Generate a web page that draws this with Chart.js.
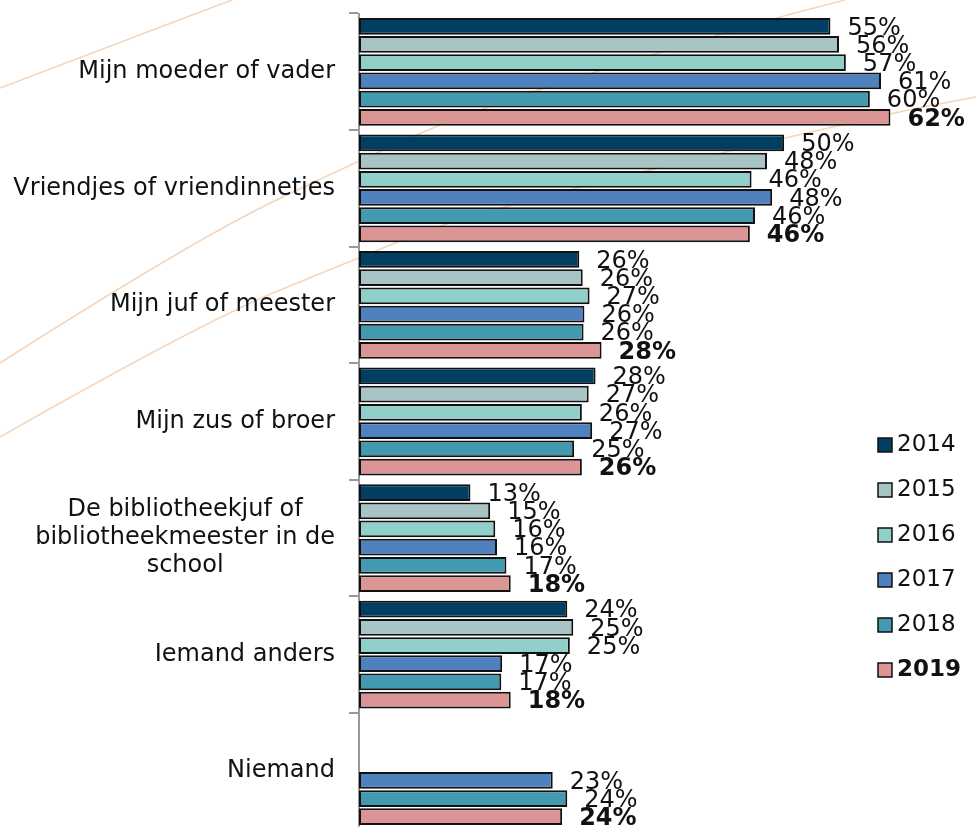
<!DOCTYPE html>
<html>
<head>
<meta charset="utf-8">
<script src="https://cdn.jsdelivr.net/npm/chart.js@4.4.1/dist/chart.umd.min.js"></script>
<style>
  html, body { margin: 0; padding: 0; background: #fff; overflow: hidden; }
  #wrap { position: relative; width: 976px; height: 832px; }
</style>
</head>
<body>
<div id="wrap"><canvas id="chBars"></canvas></div>
<script>
var categories = [
  ['Mijn moeder of vader'],
  ['Vriendjes of vriendinnetjes'],
  ['Mijn juf of meester'],
  ['Mijn zus of broer'],
  ['De bibliotheekjuf of', 'bibliotheekmeester in de', 'school'],
  ['Iemand anders'],
  ['Niemand']
];
var years = ['2014', '2015', '2016', '2017', '2018', '2019'];
var colors = ['#003F62', '#A9C4C4', '#90CFCA', '#4E81BD', '#4299B0', '#DA9594'];

// percentages per year, same order as categories
var v2014 = [55.0, 49.6, 25.7, 27.6, 13.0, 24.3, null];
var v2015 = [56.0, 47.6, 26.1, 26.8, 15.3, 25.0, null];
var v2016 = [56.8, 45.8, 26.9, 26.0, 15.9, 24.6, null];
var v2017 = [60.9, 48.2, 26.3, 27.2, 16.1, 16.7, 22.6];
var v2018 = [59.6, 46.2, 26.2, 25.1, 17.2, 16.6, 24.3];
var v2019 = [62.0, 45.6, 28.3, 26.0, 17.7, 17.7, 23.7];
var series = [v2014, v2015, v2016, v2017, v2018, v2019];

var FONT = '"DejaVu Sans", Verdana, sans-serif';

// background swooshes (decoration only)
var swooshes = [
  [[0, 88], [110, 46], [232, 0]],
  [[0, 363], [193, 240], [360, 160], [480, 107], [760, 22], [845, 0]],
  [[0, 437], [200, 323], [358, 258], [473, 212], [890, 113], [976, 97]]
];

var bgCurves = {
  id: 'bgCurves',
  beforeDraw: function (chart) {
    var ctx = chart.ctx;
    ctx.save();
    ctx.strokeStyle = 'rgba(240,195,160,0.7)';
    ctx.lineWidth = 1.5;
    swooshes.forEach(function (pts) {
      ctx.beginPath();
      ctx.moveTo(pts[0][0], pts[0][1]);
      for (var i = 1; i < pts.length - 1; i++) {
        var mx = (pts[i][0] + pts[i + 1][0]) / 2, my = (pts[i][1] + pts[i + 1][1]) / 2;
        ctx.quadraticCurveTo(pts[i][0], pts[i][1], mx, my);
      }
      var last = pts[pts.length - 1];
      ctx.lineTo(last[0], last[1]);
      ctx.stroke();
    });
    ctx.restore();
  }
};

/* category labels, multi-line ones centred on each other */
var catLabels = {
  id: 'catLabels',
  afterDraw: function (chart) {
    var ctx = chart.ctx, yScale = chart.scales.y;
    var right = 335, lineH = 28;
    ctx.save();
    ctx.font = '24px ' + FONT;
    ctx.fillStyle = '#111';
    ctx.textBaseline = 'middle';
    ctx.textAlign = 'center';
    categories.forEach(function (lines, i) {
      var w = 0;
      lines.forEach(function (l) { w = Math.max(w, ctx.measureText(l).width); });
      var cx = right - w / 2;
      var cy = yScale.getPixelForValue(i) - (lines.length - 1) * lineH / 2;
      lines.forEach(function (l, k) { ctx.fillText(l, cx, cy + k * lineH); });
    });
    ctx.restore();
  }
};

/* value labels at the end of each bar */
var valueLabels = {
  id: 'valueLabels',
  afterDatasetsDraw: function (chart) {
    var ctx = chart.ctx;
    ctx.save();
    ctx.fillStyle = '#111';
    ctx.textBaseline = 'middle';
    ctx.textAlign = 'left';
    chart.data.datasets.forEach(function (ds, di) {
      var meta = chart.getDatasetMeta(di);
      ctx.font = (di === 5 ? 'bold ' : '') + '24px ' + FONT;
      meta.data.forEach(function (bar, i) {
        var v = ds.data[i];
        if (v === null) return;
        ctx.fillText(Math.round(v) + '%', bar.x + 17, bar.y + 2);
      });
    });
    ctx.restore();
  }
};

/* legend on the right */
var sideLegend = {
  id: 'sideLegend',
  afterDraw: function (chart) {
    var ctx = chart.ctx;
    ctx.save();
    ctx.textBaseline = 'middle';
    ctx.textAlign = 'left';
    years.forEach(function (y, i) {
      var cy = 445 + i * 45;
      ctx.fillStyle = colors[i];
      ctx.fillRect(878, cy - 7, 14, 14);
      ctx.strokeStyle = '#111';
      ctx.lineWidth = 1.5;
      ctx.strokeRect(878, cy - 7, 14, 14);
      ctx.fillStyle = '#111';
      ctx.font = (i === 5 ? 'bold ' : '') + '23px ' + FONT;
      ctx.fillText(y, 897, cy);
    });
    ctx.restore();
  }
};

new Chart(document.getElementById('chBars'), {
  type: 'bar',
  data: {
    labels: categories.map(function (c) { return c.join(' '); }),
    datasets: years.map(function (y, i) {
      return {
        label: y,
        data: series[i],
        backgroundColor: colors[i],
        borderColor: '#111',
        borderWidth: 2,
        borderSkipped: false,
        categoryPercentage: 0.937,
        barPercentage: 0.92
      };
    })
  },
  options: {
    indexAxis: 'y',
    responsive: true,
    maintainAspectRatio: false,
    animation: false,
    layout: { padding: { top: 13.5, right: 17, bottom: 2.5, left: 0 } },
    plugins: { legend: { display: false }, tooltip: { enabled: false } },
    scales: {
      x: { display: false, min: 0, max: 70 },
      y: {
        afterFit: function (scale) { scale.width = 359; },
        ticks: { display: false },
        grid: { drawOnChartArea: false, tickLength: 10, color: '#999', lineWidth: 2 },
        border: { color: '#999', width: 2 }
      }
    }
  },
  plugins: [bgCurves, catLabels, valueLabels, sideLegend]
});
</script>
</body>
</html>
